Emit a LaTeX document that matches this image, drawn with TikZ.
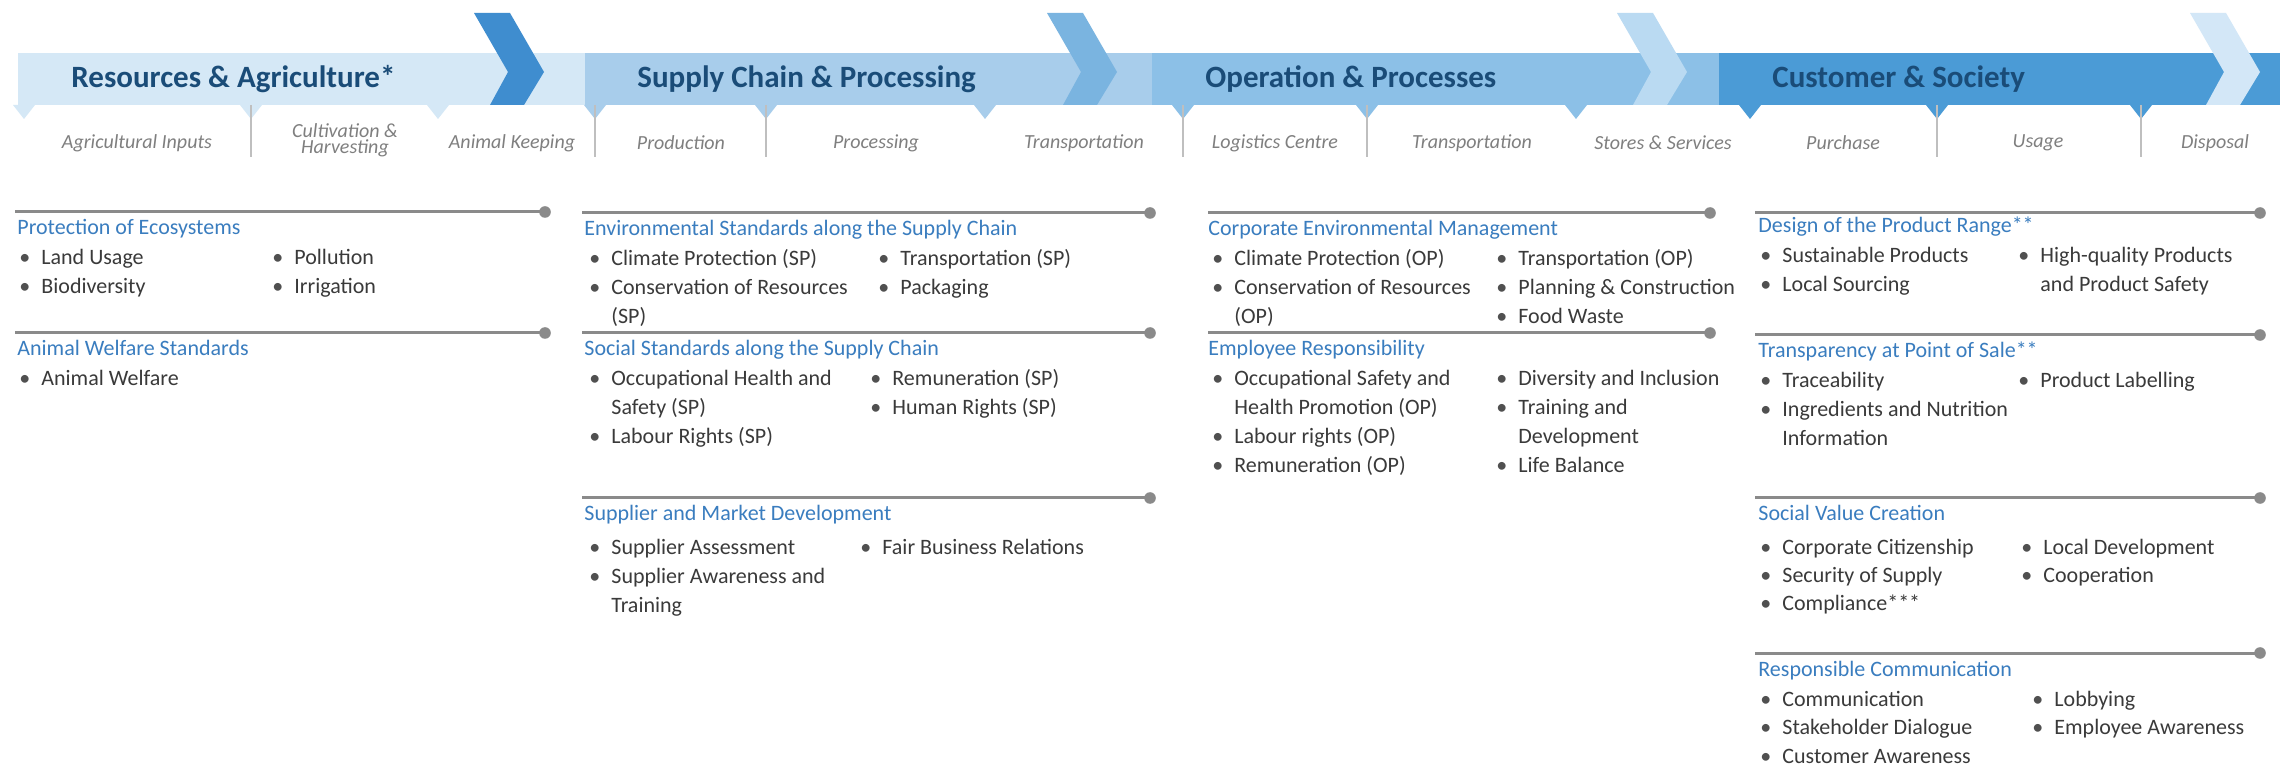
\documentclass[tikz,border=0pt]{standalone}
\usepackage{fontspec}
\setmainfont{Carlito}
\usepackage{xcolor}
\definecolor{segA}{HTML}{D5E8F6}
\definecolor{chevA}{HTML}{3F8DCF}
\definecolor{segB}{HTML}{A8CDEB}
\definecolor{chevB}{HTML}{7AB4E0}
\definecolor{segC}{HTML}{8CC0E7}
\definecolor{chevC}{HTML}{BADAF2}
\definecolor{segD}{HTML}{4B9BD6}
\definecolor{chevD}{HTML}{D3E7F7}
\definecolor{titleblue}{HTML}{1A4C78}
\definecolor{labgray}{HTML}{7F7F7F}
\definecolor{headblue}{HTML}{3A7DBF}
\definecolor{txtgray}{HTML}{3A3A3A}
\definecolor{bulgray}{HTML}{505050}
\definecolor{linegray}{HTML}{8A8A8A}
\definecolor{divgray}{HTML}{BFBFBF}
\newlength\bw \setlength\bw{11pt}
\newcommand\bul[1]{\makebox[\bw][l]{\textcolor{bulgray}{\textbullet}}#1}
\newcommand\cnt[1]{\hspace*{\bw}#1}
\newcommand\lst[1]{\begin{tabular}[t]{@{}l@{}}#1\end{tabular}}
\newcommand\tightls{\lineskiplimit=-6pt\relax}
\newcommand\chevron[2]{\fill[#2] (#1,13) -- ++(36,0) -- ++(34,59) -- ++(-20,33) -- ++(-34,0) -- ++(18,-33) -- cycle;}
\newcommand\ptr[2]{\fill[#2] (#1-11,105) -- (#1+11,105) -- (#1,119) -- cycle;}
\begin{document}
\begin{tikzpicture}[x=0.5pt,y=-0.5pt,
  segtitle/.style={font=\fontsize{15.5}{18}\selectfont\bfseries, text=titleblue, inner sep=0pt, anchor=base west},
  sublabel/.style={font=\fontsize{10}{8}\selectfont\itshape\tightls, text=labgray, inner sep=0pt, align=center},
  headtxt/.style={font=\fontsize{11}{14.5}\selectfont, text=headblue, inner sep=0pt, anchor=base west},
  listtxt/.style={font=\fontsize{11}{14.5}\selectfont, text=txtgray, inner sep=0pt, anchor=base west},
  listtight/.style={font=\fontsize{11}{14.25}\selectfont, text=txtgray, inner sep=0pt, anchor=base west},
  sepline/.style={draw=linegray, line width=1.5pt},
  enddot/.style={fill=linegray},
  vdiv/.style={draw=divgray, line width=1pt}]
\fill[white] (0,0) rectangle (2280,769);
\useasboundingbox (0,0) rectangle (2280,769);
% band segments
\fill[segA] (18,53) rectangle (585,105);
\fill[segB] (585,53) rectangle (1152,105);
\fill[segC] (1152,53) rectangle (1719,105);
\fill[segD] (1719,53) rectangle (2280,105);
\chevron{474}{chevA}
\chevron{1047}{chevB}
\chevron{1617}{chevC}
\chevron{2190}{chevD}
% pointers
\ptr{24}{segA}\ptr{251}{segA}\ptr{438}{segA}
\ptr{595}{segB}\ptr{766}{segB}\ptr{985}{segB}
\ptr{1183}{segC}\ptr{1367}{segC}\ptr{1576}{segC}
\ptr{1750}{segD}\ptr{1937}{segD}\ptr{2141}{segD}
% dividers
\foreach \vx in {251,595,766,1183,1367,1937,2141}{
  \draw[vdiv] (\vx,105) -- (\vx,157);
}
% titles
\node[segtitle] (t1) at (71,88) {Resources \& Agriculture*};
\node[segtitle] (t2) at (637,88) {Supply Chain \& Processing};
\node[segtitle] (t3) at (1205,88) {Operation \& Processes};
\node[segtitle] (t4) at (1772,88) {Customer \& Society};
% sub labels
\node[sublabel] (s1) at (137,143) {Agricultural Inputs};
\node[sublabel] (s2) at (345,140) {Cultivation \&\\Harvesting};
\node[sublabel] (s3) at (512,143) {Animal Keeping};
\node[sublabel] (s4) at (681,143) {Production};
\node[sublabel] (s5) at (876,143) {Processing};
\node[sublabel] (s6) at (1084,143) {Transportation};
\node[sublabel] (s7) at (1275,143) {Logistics Centre};
\node[sublabel] (s8) at (1472,143) {Transportation};
\node[sublabel] (s9) at (1663,143) {Stores \& Services};
\node[sublabel] (s10) at (1843,143) {Purchase};
\node[sublabel] (s11) at (2038,143) {Usage};
\node[sublabel] (s12) at (2215,143) {Disposal};
% separator lines
\foreach \nm/\xa/\xb/\yy in {a1/15/545/212, a2/15/545/333,
   b1/582/1150/213, b2/582/1150/333, b3/582/1150/498,
   c1/1208/1710/213, c2/1208/1710/333,
   d1/1755/2260/213, d2/1755/2260/335, d3/1755/2260/498, d4/1755/2260/653}{
  \coordinate (\nm s) at (\xa,\yy);
  \coordinate (\nm e) at (\xb,\yy);
  \draw[sepline] (\nm s) -- (\nm e);
  \fill[enddot] (\nm e) circle[radius=2.9pt];
}
% column 1
\node[headtxt] (h11) at (17,235) {Protection of Ecosystems};
\node[listtxt] (l11a) at (19,265) {\lst{\bul{Land Usage}\\\bul{Biodiversity}}};
\node[listtxt] (l11b) at (272,265) {\lst{\bul{Pollution}\\\bul{Irrigation}}};
\node[headtxt] (h12) at (17,356) {Animal Welfare Standards};
\node[listtxt] (l12a) at (19,386) {\lst{\bul{Animal Welfare}}};
% column 2
\node[headtxt] (h21) at (584,236) {Environmental Standards along the Supply Chain};
\node[listtxt] (l21a) at (589,265.5) {\lst{\bul{Climate Protection (SP)}\\\bul{Conservation of Resources}\\\cnt{(SP)}}};
\node[listtxt] (l21b) at (878,265.5) {\lst{\bul{Transportation (SP)}\\\bul{Packaging}}};
\node[headtxt] (h22) at (584,356) {Social Standards along the Supply Chain};
\node[listtxt] (l22a) at (589,385.5) {\lst{\bul{Occupational Health and}\\\cnt{Safety (SP)}\\\bul{Labour Rights (SP)}}};
\node[listtxt] (l22b) at (870,385.5) {\lst{\bul{Remuneration (SP)}\\\bul{Human Rights (SP)}}};
\node[headtxt] (h23) at (584,521) {Supplier and Market Development};
\node[listtxt] (l23a) at (589,554) {\lst{\bul{Supplier Assessment}\\\bul{Supplier Awareness and}\\\cnt{Training}}};
\node[listtxt] (l23b) at (860,554) {\lst{\bul{Fair Business Relations}}};
% column 3
\node[headtxt] (h31) at (1208,236) {Corporate Environmental Management};
\node[listtxt] (l31a) at (1212,265.5) {\lst{\bul{Climate Protection (OP)}\\\bul{Conservation of Resources}\\\cnt{(OP)}}};
\node[listtxt] (l31b) at (1496,265.5) {\lst{\bul{Transportation (OP)}\\\bul{Planning \& Construction}\\\bul{Food Waste}}};
\node[headtxt] (h32) at (1208,356) {Employee Responsibility};
\node[listtxt] (l32a) at (1212,385.5) {\lst{\bul{Occupational Safety and}\\\cnt{Health Promotion (OP)}\\\bul{Labour rights (OP)}\\\bul{Remuneration (OP)}}};
\node[listtxt] (l32b) at (1496,385.5) {\lst{\bul{Diversity and Inclusion}\\\bul{Training and}\\\cnt{Development}\\\bul{Life Balance}}};
% column 4
\node[headtxt] (h41) at (1758,233) {Design of the Product Range**};
\node[listtxt] (l41a) at (1760,263) {\lst{\bul{Sustainable Products}\\\bul{Local Sourcing}}};
\node[listtxt] (l41b) at (2018,263) {\lst{\bul{High-quality Products}\\\cnt{and Product Safety}}};
\node[headtxt] (h42) at (1758,358) {Transparency at Point of Sale**};
\node[listtxt] (l42a) at (1760,388) {\lst{\bul{Traceability}\\\bul{Ingredients and Nutrition}\\\cnt{Information}}};
\node[listtxt] (l42b) at (2018,388) {\lst{\bul{Product Labelling}}};
\node[headtxt] (h43) at (1758,521) {Social Value Creation};
\node[listtight] (l43a) at (1760,554) {\lst{\bul{Corporate Citizenship}\\\bul{Security of Supply}\\\bul{Compliance***}}};
\node[listtight] (l43b) at (2021,554) {\lst{\bul{Local Development}\\\bul{Cooperation}}};
\node[headtxt] (h44) at (1758,676) {Responsible Communication};
\node[listtight] (l44a) at (1760,706) {\lst{\bul{Communication}\\\bul{Stakeholder Dialogue}\\\bul{Customer Awareness}}};
\node[listtight] (l44b) at (2032,706) {\lst{\bul{Lobbying}\\\bul{Employee Awareness}}};
\end{tikzpicture}
\end{document}
